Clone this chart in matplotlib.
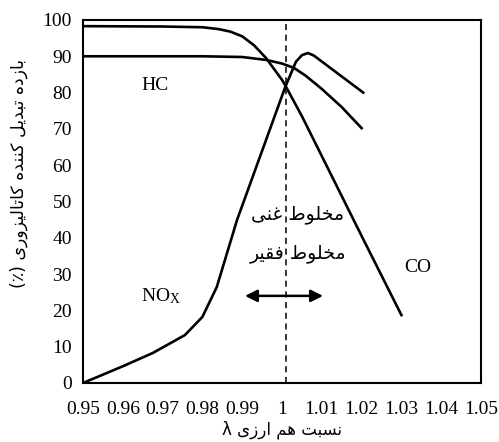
import numpy as np
import matplotlib
matplotlib.use("Agg")
import matplotlib.pyplot as plt

plt.rcParams['font.family'] = ['Liberation Serif', 'DejaVu Sans']
plt.rcParams['mathtext.fontset'] = 'custom'
plt.rcParams['mathtext.rm'] = 'Liberation Serif'
plt.rcParams['mathtext.it'] = 'Liberation Serif'

# curve data (lambda, conversion %)
co_x = [0.95, 0.97, 0.98, 0.984, 0.987, 0.990, 0.993, 0.996, 1.0, 1.0008, 1.005, 1.01, 1.02, 1.03]
co_y = [98.3, 98.2, 98.0, 97.5, 96.8, 95.5, 93.0, 89.5, 83.5, 82.0, 73.5, 62.5, 40.5, 18.7]

hc_x = [0.95, 0.98, 0.99, 0.996, 1.0, 1.003, 1.006, 1.01, 1.015, 1.02]
hc_y = [90.0, 90.0, 89.8, 89.0, 88.0, 86.8, 84.6, 81.0, 76.0, 70.2]

nox_x = [0.95, 0.96, 0.9676, 0.9756, 0.980, 0.9836, 0.9887, 1.0008, 1.0035, 1.005, 1.0065, 1.008, 1.0204]
nox_y = [0.0, 4.6, 8.3, 13.2, 18.2, 26.4, 44.9, 81.5, 88.5, 90.3, 90.9, 90.2, 80.0]

x_ticks = [0.95, 0.96, 0.97, 0.98, 0.99, 1.0, 1.01, 1.02, 1.03, 1.04, 1.05]
x_labels = ['0.95', '0.96', '0.97', '0.98', '0.99', '1', '1.01', '1.02', '1.03', '1.04', '1.05']
y_ticks = list(range(0, 101, 10))

# simple arabic/persian shaping: isolated, final, initial, medial
FORMS = {
    '\u0627': ('\uFE8D', '\uFE8E'),
    '\u0628': ('\uFE8F', '\uFE90', '\uFE91', '\uFE92'),
    '\u062A': ('\uFE95', '\uFE96', '\uFE97', '\uFE98'),
    '\u062E': ('\uFEA5', '\uFEA6', '\uFEA7', '\uFEA8'),
    '\u062F': ('\uFEA9', '\uFEAA'),
    '\u0631': ('\uFEAD', '\uFEAE'),
    '\u0632': ('\uFEAF', '\uFEB0'),
    '\u0633': ('\uFEB1', '\uFEB2', '\uFEB3', '\uFEB4'),
    '\u0637': ('\uFEC1', '\uFEC2', '\uFEC3', '\uFEC4'),
    '\u063A': ('\uFECD', '\uFECE', '\uFECF', '\uFED0'),
    '\u0641': ('\uFED1', '\uFED2', '\uFED3', '\uFED4'),
    '\u0642': ('\uFED5', '\uFED6', '\uFED7', '\uFED8'),
    '\u0644': ('\uFEDD', '\uFEDE', '\uFEDF', '\uFEE0'),
    '\u0645': ('\uFEE1', '\uFEE2', '\uFEE3', '\uFEE4'),
    '\u0646': ('\uFEE5', '\uFEE6', '\uFEE7', '\uFEE8'),
    '\u0647': ('\uFEE9', '\uFEEA', '\uFEEB', '\uFEEC'),
    '\u0648': ('\uFEED', '\uFEEE'),
    '\u06CC': ('\uFBFC', '\uFBFD', '\uFBFE', '\uFBFF'),
    '\u06A9': ('\uFB8E', '\uFB8F', '\uFB90', '\uFB91'),
}


def fa(s):
    out = []
    for i, c in enumerate(s):
        if c not in FORMS:
            out.append(c)
            continue
        f = FORMS[c]
        prev = s[i - 1] if i > 0 else ''
        nxt = s[i + 1] if i + 1 < len(s) else ''
        jp = prev in FORMS and len(FORMS[prev]) == 4
        jn = len(f) == 4 and nxt in FORMS
        if jp and jn:
            out.append(f[3])
        elif jp:
            out.append(f[1])
        elif jn:
            out.append(f[2])
        else:
            out.append(f[0])
    r = ''.join(out)[::-1]
    return r.translate(str.maketrans('()', ')('))


fig = plt.figure(figsize=(4.99, 4.42), dpi=100)
ax = fig.add_axes([0.1663, 0.1335, 0.7977, 0.8213])

ax.plot(co_x, co_y, color='black', lw=1.9, solid_joinstyle='round')
ax.plot(hc_x, hc_y, color='black', lw=1.9, solid_joinstyle='round')
ax.plot(nox_x, nox_y, color='black', lw=1.9, solid_joinstyle='round')
ax.axvline(1.001, color='black', lw=1.1, ls=(0, (4, 3)))

ax.annotate('', xy=(0.9907, 24), xytext=(1.0103, 24),
            arrowprops=dict(arrowstyle='<|-|>', lw=1.8, color='black',
                            mutation_scale=18, shrinkA=0, shrinkB=0))

ax.text(0.968, 82, 'HC', fontsize=14, ha='center', va='center')
ax.text(0.9695, 24, r'NO$_\mathrm{X}$', fontsize=14, ha='center', va='center')
ax.text(1.0342, 31.7, 'CO', fontsize=14, ha='center', va='center')
ax.text(1.004, 46.3, fa('مخلوط غنی'), fontsize=13.5, ha='center', va='center',
        family='DejaVu Sans')
ax.text(1.004, 35.8, fa('مخلوط فقیر'), fontsize=13.5, ha='center', va='center',
        family='DejaVu Sans')

ax.set_xlim(0.95, 1.05)
ax.set_ylim(0, 100)
ax.set_xticks(x_ticks)
ax.set_xticklabels(x_labels)
ax.set_yticks(y_ticks)
ax.tick_params(length=0, labelsize=14)
ax.tick_params(axis='x', pad=13)
ax.tick_params(axis='y', pad=8)
for s in ax.spines.values():
    s.set_linewidth(1.5)

ax.set_xlabel(fa('نسبت هم ارزی λ'), fontsize=12, family='DejaVu Sans', va='center')
ax.xaxis.set_label_coords(0.5, -0.128)
ax.set_ylabel(fa('بازده تبدیل کننده کاتالیزوری (٪)'), fontsize=12.5,
              family='DejaVu Sans')
ax.yaxis.set_label_coords(-0.138, 0.578)

fig.savefig('out.png', dpi=100)
